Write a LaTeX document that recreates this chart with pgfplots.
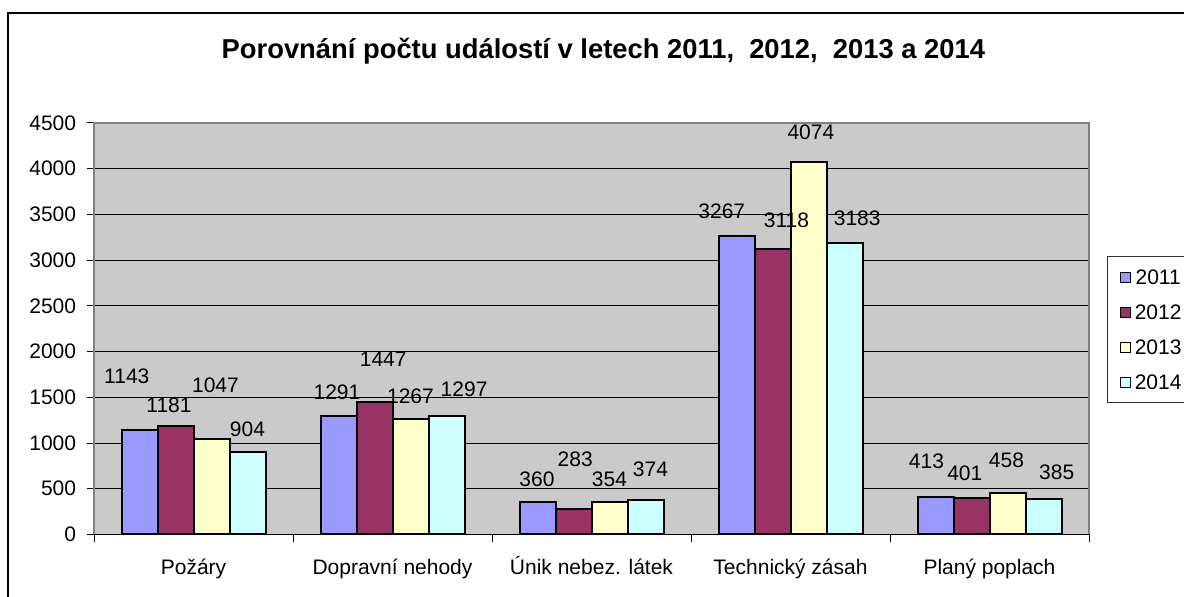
\documentclass[border=0pt]{standalone}
\usepackage{fontspec}
\setmainfont{Liberation Sans}
\usepackage{pgfplots}
\usepackage{pgfplotstable}
\pgfplotsset{compat=1.18}

\definecolor{c2011}{HTML}{9999FF}
\definecolor{c2012}{HTML}{993366}
\definecolor{c2013}{HTML}{FFFFCC}
\definecolor{c2014}{HTML}{CCFFFF}
\definecolor{plotgray}{HTML}{CACACA}
\definecolor{framegray}{HTML}{808080}

% x = category, y = count, dx/dy = label offset from the bar top (px)
\pgfplotstableread{
x y dx dy
0 1143 -12.7 54
1 1291 -1.5 23.8
2 360 -0.5 22.3
3 3267 -14.7 24.8
4 413 -9 35
}\tA
\pgfplotstableread{
x y dx dy
0 1181 -6.5 21.5
1 1447 8.7 42.9
2 283 1.7 49.6
3 3118 14 29.4
4 401 -6.7 24.5
}\tB
\pgfplotstableread{
x y dx dy
0 1047 4 53.8
1 1267 0 21.9
2 354 0 22.8
3 4074 2.4 29.3
4 458 -1 32.6
}\tC
\pgfplotstableread{
x y dx dy
0 904 0 22.8
1 1297 17.6 26.6
2 374 5 31
3 3183 12.7 25.2
4 385 13.2 26.6
}\tD

\begin{document}
\begin{tikzpicture}[x=1pt,y=1pt]
\useasboundingbox (0,0) rectangle (592,298.5);
\begin{scope}
\clip (0,0) rectangle (592,298.5);
\fill[white] (0,0) rectangle (592,298.5);
\draw[black, line width=1pt] (3.75,-10) -- (3.75,292.15) -- (620,292.15);
\node[font=\fontsize{13.68}{16}\selectfont\bfseries, anchor=base] at (301.7,269.35)
  {Porovnání počtu událostí v letech 2011,~~2012,~~2013 a 2014};
\begin{axis}[
  name=ax,
  at={(47pt,31.25pt)}, anchor=south west,
  scale only axis, width=497.5pt, height=205.75pt,
  font=\fontsize{10.5}{12.6}\selectfont,
  ybar=0pt, bar width=18pt,
  xmin=-0.5, xmax=4.5, ymin=0, ymax=4500,
  ytick={0,500,...,4500},
  xtick={-0.5,0.5,...,4.5}, xticklabels={},
  extra x ticks={0,1,2,3,4},
  extra x tick labels={Požáry,Dopravní nehody,Únik nebez. látek,Technický zásah,Planý poplach},
  extra x tick style={major tick length=0pt},
  xticklabel style={anchor=base, yshift=-20.25pt, inner sep=0pt},
  yticklabel style={anchor=east, xshift=-5pt, inner sep=0pt},
  tick align=outside, major tick length=3.75pt,
  tick style={black, line width=0.5pt},
  xtick pos=bottom, ytick pos=left,
  ymajorgrids, grid style={black, line width=0.5pt},
  axis line style={draw=none},
  axis background/.style={fill=plotgray},
  /pgf/number format/assume math mode=true,
  /pgf/number format/1000 sep={},
  visualization depends on={\thisrow{dx}\as\ldx},
  visualization depends on={\thisrow{dy}\as\ldy},
  nodes near coords,
  nodes near coords style={anchor=center, inner sep=0pt, xshift=\ldx*0.5pt, yshift=\ldy*0.5pt},
  clip=false,
  legend style={at={(1.0184,0.6768)}, anchor=north west, draw=black!80, line width=0.5pt,
    inner xsep=6pt, inner ysep=6.6pt, row sep=10pt,
    nodes={inner sep=0pt, text height=7.5pt, text depth=0pt},
    /tikz/every odd column/.append style={column sep=2pt}},
  legend image code/.code={\draw[#1, line width=0.5pt] (0pt,-2.5pt) rectangle (5pt,2.5pt);},
]
\addplot[draw=black, line width=1pt, fill=c2011] table[x=x, y=y] {\tA};
\addplot[draw=black, line width=1pt, fill=c2012] table[x=x, y=y] {\tB};
\addplot[draw=black, line width=1pt, fill=c2013] table[x=x, y=y] {\tC};
\addplot[draw=black, line width=1pt, fill=c2014] table[x=x, y=y] {\tD};
\legend{2011,2012,2013,2014}
\end{axis}
\draw[framegray, line width=0.75pt] (ax.south west) -- (ax.north west) -- (ax.north east) -- (ax.south east);
\draw[black, line width=0.5pt] (ax.south west) -- (ax.south east);
\end{scope}
\end{tikzpicture}
\end{document}
